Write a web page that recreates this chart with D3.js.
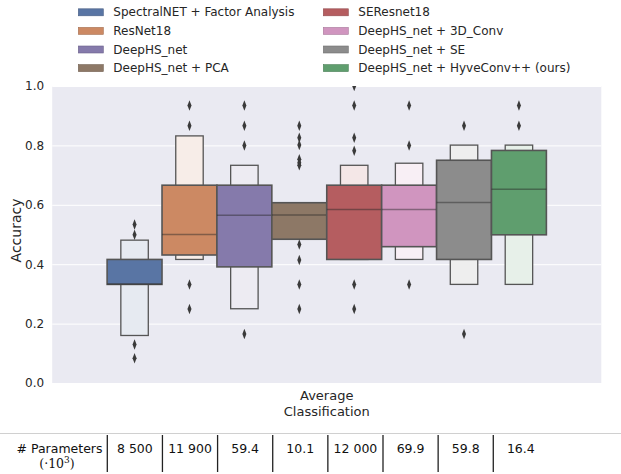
<!DOCTYPE html>
<html>
<head>
<meta charset="utf-8">
<script src="https://cdn.jsdelivr.net/npm/d3@7"></script>
<style>
  html, body { margin: 0; padding: 0; background: #ffffff; }
  svg { display: block; font-family: "DejaVu Sans", sans-serif; }
</style>
</head>
<body>
<svg id="chart" width="621" height="474"></svg>
<script>
// Models compared (hue order) and their colours
const models = [
  "SpectralNET + Factor Analysis", "ResNet18", "DeepHS_net", "DeepHS_net + PCA",
  "SEResnet18", "DeepHS_net + 3D_Conv", "DeepHS_net + SE", "DeepHS_net + HyveConv++ (ours)"
];
const colors = ["#5975a4", "#cc8963", "#857aab", "#8d7866", "#b55d60", "#d095bf", "#8c8c8c", "#5f9e6e"];
const category = "Average Classification";

// Letter-value summary of the accuracy per model
const medians  = [0.333, 0.500, 0.565, 0.566, 0.584, 0.584, 0.608, 0.652];
const innerLow = [0.332, 0.431, 0.391, 0.484, 0.416, 0.459, 0.416, 0.499];
const innerHigh= [0.416, 0.666, 0.666, 0.607, 0.666, 0.666, 0.750, 0.783];
const outerLow = [0.160, 0.416, 0.250, null, 0.416, 0.416, 0.332, 0.332];
const outerHigh= [0.481, 0.832, 0.733, null, 0.733, 0.740, 0.801, 0.801];
const outliers = [
  [0.534, 0.499, 0.130, 0.083],
  [0.934, 0.866, 0.332, 0.249],
  [0.934, 0.866, 0.800, 0.165],
  [0.866, 0.826, 0.801, 0.753, 0.742, 0.733, 0.466, 0.414, 0.332, 0.249],
  [1.000, 0.934, 0.826, 0.782, 0.332, 0.249],
  [0.934, 0.800, 0.332],
  [0.866, 0.165],
  [0.934, 0.866]
];
const yTicks = [0.0, 0.2, 0.4, 0.6, 0.8, 1.0];
const params = ["8 500", "11 900", "59.4", "10.1", "12 000", "69.9", "59.8", "16.4"];

const svg = d3.select("#chart");
const plot = { left: 52.2, right: 601.3, top: 86, bottom: 383 };
const edge = "#555555";

const x = d3.scaleBand().domain([category]).range([plot.left, plot.right]);
const groupW = x.bandwidth() * 0.8;
const xc = x(category) + x.bandwidth() / 2;
const hue = d3.scaleBand().domain(models).range([xc - groupW / 2, xc + groupW / 2]);
const y = d3.scaleLinear().domain([0, 1]).range([plot.bottom, plot.top]);

// axes background and grid
svg.append("rect")
  .attr("x", plot.left).attr("y", plot.top)
  .attr("width", plot.right - plot.left).attr("height", plot.bottom - plot.top)
  .attr("fill", "#eaeaf2");

svg.append("defs").append("clipPath").attr("id", "plotclip")
  .append("rect")
  .attr("x", plot.left).attr("y", plot.top)
  .attr("width", plot.right - plot.left).attr("height", plot.bottom - plot.top);

const yAxis = svg.append("g")
  .attr("transform", `translate(${plot.left},0)`)
  .call(d3.axisLeft(y).tickValues(yTicks).tickFormat(d3.format(".1f"))
    .tickSize(-(plot.right - plot.left)).tickPadding(8));
yAxis.select(".domain").remove();
yAxis.selectAll(".tick line").attr("stroke", "#ffffff").attr("stroke-width", 1);
yAxis.selectAll(".tick text")
  .attr("fill", "#262626").attr("font-size", 12).attr("font-family", "DejaVu Sans");

svg.append("text")
  .attr("transform", `translate(16,${(plot.top + plot.bottom) / 2 - 4}) rotate(-90)`)
  .attr("text-anchor", "middle").attr("dominant-baseline", "central")
  .attr("font-size", 14).attr("fill", "#262626")
  .text("Accuracy");

// x axis label (category name, split on two lines)
const xlab = svg.append("text")
  .attr("text-anchor", "middle").attr("font-size", 13).attr("fill", "#262626");
category.split(" ").forEach((w, i) => {
  xlab.append("tspan").attr("x", xc).attr("y", 400 + i * 16).text(w);
});

// boxen plot
const g = svg.append("g").attr("clip-path", "url(#plotclip)");
const light = c => d3.interpolateRgb(c, "#ffffff")(0.85);

models.forEach((m, i) => {
  const cx = hue(m) + hue.bandwidth() / 2;
  const wOut = hue.bandwidth() / 2;
  if (outerLow[i] !== null) {
    g.append("rect")
      .attr("x", cx - wOut / 2).attr("width", wOut)
      .attr("y", y(outerHigh[i])).attr("height", y(outerLow[i]) - y(outerHigh[i]))
      .attr("fill", light(colors[i])).attr("stroke", edge).attr("stroke-width", 1.3);
  }
});
models.forEach((m, i) => {
  const cx = hue(m) + hue.bandwidth() / 2;
  const wIn = hue.bandwidth();
  g.append("rect")
    .attr("x", cx - wIn / 2).attr("width", wIn)
    .attr("y", y(innerHigh[i])).attr("height", y(innerLow[i]) - y(innerHigh[i]))
    .attr("fill", colors[i]).attr("stroke", edge).attr("stroke-width", 1.6);
  g.append("line")
    .attr("x1", cx - wIn / 2).attr("x2", cx + wIn / 2)
    .attr("y1", y(medians[i])).attr("y2", y(medians[i]))
    .attr("stroke", "#262626").attr("stroke-opacity", 0.45).attr("stroke-width", 1.5);
});
const diamond = d3.symbol().type(d3.symbolDiamond).size(22);
models.forEach((m, i) => {
  const cx = hue(m) + hue.bandwidth() / 2;
  g.selectAll(null).data(outliers[i]).join("path")
    .attr("d", diamond)
    .attr("transform", v => `translate(${cx},${y(v)}) scale(0.8,1.2)`)
    .attr("fill", "#3a3a3a");
});

// legend (two columns)
const leg = svg.append("g");
models.forEach((m, i) => {
  const col = Math.floor(i / 4), row = i % 4;
  const lx = 78.3 + col * 245, ly = 12.3 + row * 18.6;
  leg.append("rect")
    .attr("x", lx).attr("y", ly - 3.5).attr("width", 25).attr("height", 7)
    .attr("fill", colors[i]).attr("stroke", d3.color(colors[i]).darker(0.6)).attr("stroke-width", 0.6);
  leg.append("text")
    .attr("x", lx + 35).attr("y", ly).attr("dominant-baseline", "central")
    .attr("font-size", 12).attr("fill", "#262626").text(m);
});

// parameter table below the chart
const tab = svg.append("g");
tab.append("line").attr("x1", 0).attr("x2", 621).attr("y1", 433.5).attr("y2", 433.5)
  .attr("stroke", "#d0d0d0").attr("stroke-width", 1);
const colIdx = params.map((d, i) => i);
const cols = d3.scaleBand().domain(colIdx).range([107.3, 107.3 + 55.14 * 8]);
tab.selectAll(".vline").data(colIdx).join("line")
  .attr("x1", i => cols(i)).attr("x2", i => cols(i))
  .attr("y1", 435).attr("y2", 472)
  .attr("stroke", "#222222").attr("stroke-width", 1.3);
tab.selectAll(".pval").data(params).join("text")
  .attr("x", (d, i) => cols(i) + cols.bandwidth() / 2).attr("y", 448.5)
  .attr("text-anchor", "middle").attr("dominant-baseline", "central")
  .attr("font-size", 12.5).attr("fill", "#111111").text(d => d);
tab.append("text")
  .attr("x", 102.5).attr("y", 448.5).attr("text-anchor", "end").attr("dominant-baseline", "central")
  .attr("font-size", 12.5).attr("fill", "#111111").text("# Parameters");
const unit = tab.append("text")
  .attr("x", 57).attr("y", 468).attr("text-anchor", "middle")
  .attr("font-family", "DejaVu Serif, serif").attr("font-size", 12.5).attr("fill", "#111111");
unit.append("tspan").text("(·10");
unit.append("tspan").attr("dy", -5).attr("font-size", 9).text("3");
unit.append("tspan").attr("dy", 5).text(")");
</script>
</body>
</html>
